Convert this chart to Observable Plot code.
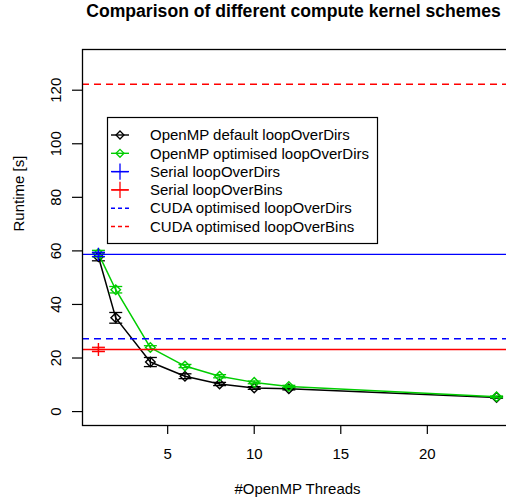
<!DOCTYPE html>
<html>
<head>
<meta charset="utf-8">
<script src="https://cdn.jsdelivr.net/npm/d3@7"></script>
<script src="https://cdn.jsdelivr.net/npm/@observablehq/plot@0.6"></script>
<style>
  html, body { margin: 0; padding: 0; background: #fff; overflow: hidden; width: 506px; height: 500px; }
  #chart { width: 520px; }
  #chart svg { display: block; max-width: none !important; width: 520px !important; height: 500px !important; }
</style>
</head>
<body>
<div id="chart"></div>
<script>
// ---- data ----
const threads = [1, 2, 4, 6, 8, 10, 12, 24];
const defaultRuntime = [57.8, 35.0, 18.5, 13.2, 10.3, 8.8, 8.5, 5.3];
const defaultErr = [1.5, 2.0, 1.7, 0.9, 0.6, 0.5, 0.4, 0.3];
const optimisedRuntime = [59.0, 45.5, 23.9, 17.0, 13.2, 10.9, 9.4, 5.5];
const optimisedErr = [1.2, 1.2, 0.7, 0.6, 0.6, 0.5, 0.4, 0.3];
const serialThreads = [1];
const serialDirsRuntime = [58.7];
const serialDirsErr = [0.8];
const serialBinsRuntime = [23.2];
const serialBinsErr = [0.8];
const cudaDirsRuntime = [27.2];
const cudaBinsRuntime = [122.2];
const xTicks = [5, 10, 15, 20];
const yTicks = [0, 20, 40, 60, 80, 100, 120];
const legendLabels = [
  "OpenMP default loopOverDirs",
  "OpenMP optimised loopOverDirs",
  "Serial loopOverDirs",
  "Serial loopOverBins",
  "CUDA optimised loopOverDirs",
  "CUDA optimised loopOverBins"
];
const titleText = "Comparison of different compute kernel schemes";
const xLabel = "#OpenMP Threads";
const yLabel = "Runtime [s]";

// ---- build tables ----
const toRows = (xs, ys, es) => xs.map((x, i) => ({x, y: ys[i], e: es[i]}));
const defaultRows = toRows(threads, defaultRuntime, defaultErr);
const optimisedRows = toRows(threads, optimisedRuntime, optimisedErr);
const serialDirsRows = toRows(serialThreads, serialDirsRuntime, serialDirsErr);
const serialBinsRows = toRows(serialThreads, serialBinsRuntime, serialBinsErr);

const GREEN = "#00CD00", BLUE = "#0000FF", RED = "#FF0000";
const FONT = "'Liberation Sans', Arial, Helvetica, sans-serif";

// error-bar cap: short horizontal stroke
const cap = { draw(ctx) { ctx.moveTo(-6.5, 0); ctx.lineTo(6.5, 0); } };

function series(rows, color, symbol) {
  return [
    Plot.ruleX(rows, {x: "x", y1: d => d.y - d.e, y2: d => d.y + d.e, stroke: color, strokeWidth: 1.3}),
    Plot.dot(rows, {x: "x", y: d => d.y - d.e, symbol: cap, fill: "none", stroke: color, strokeWidth: 1.3}),
    Plot.dot(rows, {x: "x", y: d => d.y + d.e, symbol: cap, fill: "none", stroke: color, strokeWidth: 1.3}),
    Plot.dot(rows, {x: "x", y: "y", symbol, r: 4.3, fill: "none", stroke: color, strokeWidth: 1.4})
  ];
}

const W = 520, H = 500, ML = 82, MR = 8, MT = 49, MB = 75;

const chart = Plot.plot({
  width: W, height: H,
  marginLeft: ML, marginRight: MR, marginTop: MT, marginBottom: MB,
  style: {fontFamily: FONT, fontSize: "15px", color: "#000", background: "#fff", overflow: "visible"},
  x: {domain: [0.08, 24.92]},
  y: {domain: [-5.2, 135.2]},
  marks: [
    Plot.line(defaultRows, {x: "x", y: "y", stroke: "#000", strokeWidth: 1.5}),
    ...series(defaultRows, "#000", "diamond2"),
    Plot.line(optimisedRows, {x: "x", y: "y", stroke: GREEN, strokeWidth: 1.5}),
    ...series(optimisedRows, GREEN, "diamond2"),
    Plot.ruleY(serialDirsRuntime, {y: d => d, stroke: BLUE, strokeWidth: 1.4}),
    ...series(serialDirsRows, BLUE, "plus"),
    Plot.ruleY(serialBinsRuntime, {y: d => d, stroke: RED, strokeWidth: 1.4}),
    ...series(serialBinsRows, RED, "plus"),
    Plot.ruleY(cudaDirsRuntime, {y: d => d, stroke: BLUE, strokeWidth: 1.4, strokeDasharray: "7,5"}),
    Plot.ruleY(cudaBinsRuntime, {y: d => d, stroke: RED, strokeWidth: 1.4, strokeDasharray: "7,5"}),
    Plot.axisX({ticks: xTicks, tickSize: 9, tickPadding: 14, tickFormat: d => String(d), label: null, fontSize: 15, strokeWidth: 1.2}),
    Plot.axisY({ticks: yTicks, tickSize: 10, tickFormat: () => "", label: null, strokeWidth: 1.2}),
    Plot.text(yTicks, {y: d => d, text: d => String(d), frameAnchor: "left", dx: -26, rotate: -90, textAnchor: "middle", lineAnchor: "middle", fontSize: 15}),
    Plot.frame({stroke: "#000", strokeWidth: 1.3}),
    Plot.text([titleText], {text: d => d, frameAnchor: "top", dx: -4, dy: -38, fontSize: 17.6, fontWeight: "bold", lineAnchor: "middle"}),
    Plot.text([xLabel], {text: d => d, frameAnchor: "bottom", dy: 64, fontSize: 15, lineAnchor: "middle"}),
    Plot.text([yLabel], {text: d => d, frameAnchor: "left", dx: -63, dy: -6, rotate: -90, fontSize: 15, lineAnchor: "middle"})
  ]
});
document.getElementById("chart").appendChild(chart);

// ---- legend (R-style box) ----
const svg = d3.select(chart);
const lg = svg.append("g").attr("font-family", FONT).attr("font-size", 15).attr("text-anchor", "start");
lg.append("rect").attr("x", 107.5).attr("y", 117.5).attr("width", 270).attr("height", 126)
  .attr("fill", "#fff").attr("stroke", "#000").attr("stroke-width", 1.2);
const legendStyles = [
  {color: "#000", dash: null, sym: d3.symbolDiamond2},
  {color: GREEN, dash: null, sym: d3.symbolDiamond2},
  {color: BLUE, dash: null, sym: d3.symbolPlus},
  {color: RED, dash: null, sym: d3.symbolPlus},
  {color: BLUE, dash: "4,3", sym: null},
  {color: RED, dash: "4,3", sym: null}
];
legendLabels.forEach((label, i) => {
  const s = legendStyles[i];
  const y = 135 + i * 18.3;
  lg.append("line").attr("x1", 111).attr("x2", 129).attr("y1", y).attr("y2", y)
    .attr("stroke", s.color).attr("stroke-width", 1.4).attr("stroke-dasharray", s.dash);
  if (s.sym) {
    lg.append("path").attr("d", d3.symbol(s.sym, s.sym === d3.symbolPlus ? 90 : 40)())
      .attr("transform", `translate(120,${y})`).attr("fill", "none")
      .attr("stroke", s.color).attr("stroke-width", 1.3);
  }
  lg.append("text").attr("x", 150).attr("y", y).attr("dy", "0.35em").attr("fill", "#000").attr("text-anchor", "start").text(label);
});
</script>
</body>
</html>
